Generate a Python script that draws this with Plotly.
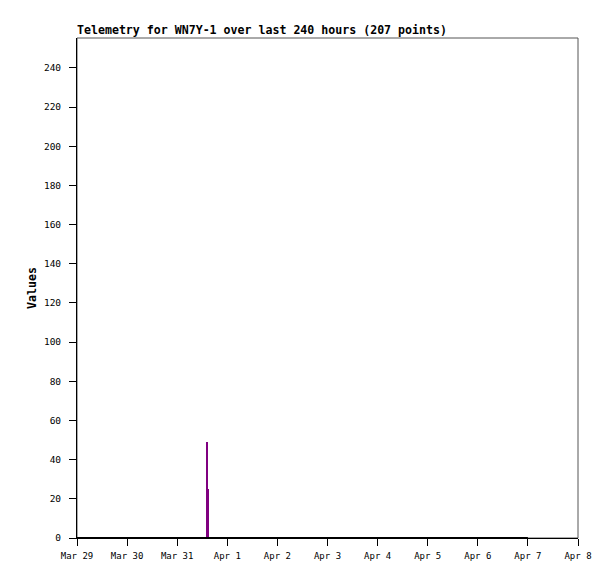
import plotly.graph_objects as go

# ---- data ----
zero_times = ["2024-03-29 00:00", "2024-03-30 00:00", "2024-03-31 00:00", "2024-04-01 00:00",
              "2024-04-02 00:00", "2024-04-03 00:00", "2024-04-04 00:00", "2024-04-05 00:00",
              "2024-04-06 00:00", "2024-04-07 00:00"]
zero_values = [0, 0, 0, 0, 0, 0, 0, 0, 0, 0]

spike_times = ["2024-03-31 14:10", "2024-03-31 14:40"]
spike_values = [49, 25]

tick_dates = ["2024-03-29", "2024-03-30", "2024-03-31", "2024-04-01", "2024-04-02", "2024-04-03",
              "2024-04-04", "2024-04-05", "2024-04-06", "2024-04-07", "2024-04-08"]
tick_labels = ["Mar 29", "Mar 30", "Mar 31", "Apr 1", "Apr 2", "Apr 3",
               "Apr 4", "Apr 5", "Apr 6", "Apr 7", "Apr 8"]
y_ticks = list(range(0, 241, 20))

title_text = "Telemetry for WN7Y-1 over last 240 hours (207 points)"
y_title = "Values"

MONO = "DejaVu Sans Mono, Liberation Mono, monospace"
OFF = 8  # page body margin

fig = go.Figure()
fig.add_trace(go.Bar(x=spike_times, y=spike_values, width=[3600000 * 1.0] * len(spike_times),
                     marker=dict(color="#800080", line=dict(width=0)), showlegend=False))
fig.add_trace(go.Scatter(x=zero_times, y=zero_values, mode="lines",
                         line=dict(color="black", width=2), cliponaxis=False, showlegend=False))

fig.update_layout(
    width=615, height=579,
    margin=dict(l=77 - OFF, r=37 + OFF, t=38 - OFF, b=41 + OFF, autoexpand=False),
    paper_bgcolor="white", plot_bgcolor="white",
    bargap=0,
    title=dict(text="<b>" + title_text + "</b>", x=(77 - OFF) / 615, xanchor="left",
               y=1 - (34 - OFF) / 579, yanchor="bottom",
               font=dict(family=MONO, size=11.6, color="black")),
    font=dict(family=MONO, color="black"),
    shapes=[dict(type="rect", xref="paper", yref="paper", x0=0, x1=1, y0=0, y1=1,
                 line=dict(color="#555555", width=1), layer="below")],
)
fig.update_xaxes(type="date", range=["2024-03-29", "2024-04-08"],
                 tickvals=tick_dates, ticktext=tick_labels,
                 ticks="outside", ticklen=7, tickcolor="black", tickwidth=1,
                 showline=True, linecolor="black", linewidth=1,
                 showgrid=False, zeroline=False, ticklabelstandoff=2,
                 tickfont=dict(family=MONO, size=9, color="black"))
fig.update_yaxes(range=[0, 255.3], tickvals=y_ticks,
                 ticks="outside", ticklen=7, tickcolor="black", tickwidth=1,
                 showline=True, linecolor="black", linewidth=1,
                 showgrid=False, zeroline=False, ticklabelstandoff=6,
                 tickfont=dict(family=MONO, size=9.5, color="black"),
                 title=dict(text="<b>" + y_title + "</b>", standoff=4,
                            font=dict(family=MONO, size=11.6, color="black")))

fig.write_html("out.html")
